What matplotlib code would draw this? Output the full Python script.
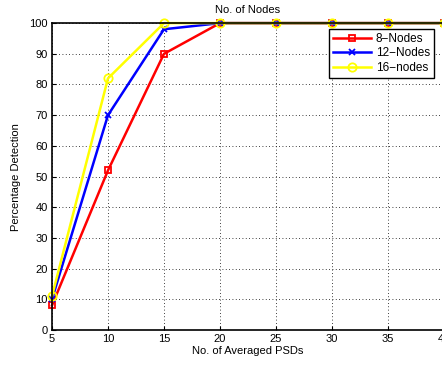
import matplotlib
matplotlib.use('Agg')
import matplotlib.pyplot as plt

plt.rcParams['font.family'] = ['Liberation Sans', 'DejaVu Sans']
plt.rcParams['font.size'] = 8

x = [5, 10, 15, 20, 25, 30, 35, 40]
nodes8 = [8, 52, 90, 100, 100, 100, 100, 100]
nodes12 = [10, 70, 98, 100, 100, 100, 100, 100]
nodes16 = [11, 82, 100, 100, 100, 100, 100, 100]

fig = plt.figure(figsize=(4.42, 3.67), dpi=100)
ax = fig.add_axes([0.1176, 0.1008, 0.8869, 0.8362])

ax.plot(x, nodes8, color='red', lw=1.8, marker='s', ms=5, mfc='none', mec='red', mew=1.3, label='8\u2212Nodes', clip_on=False)
ax.plot(x, nodes12, color='blue', lw=1.8, marker='x', ms=4, mec='blue', mew=1.3, label='12\u2212Nodes', clip_on=False)
ax.plot(x, nodes16, color='yellow', lw=1.8, marker='o', ms=6, mfc='none', mec='yellow', mew=1.3, label='16\u2212nodes', clip_on=False)

ax.set_xlim(5, 40)
ax.set_ylim(0, 100)
ax.set_xticks(range(5, 41, 5))
ax.set_yticks(range(0, 101, 10))
ax.grid(True, color='black', linestyle=(0, (1, 3)), lw=0.6)
ax.tick_params(direction='in', length=3, width=0.8, labelsize=8, pad=3)
for s in ax.spines.values():
    s.set_linewidth(1.2)

ax.set_xlabel('No. of Averaged PSDs', labelpad=1)
ax.set_ylabel('Percentage Detection', labelpad=6)
ax.set_title('No. of Nodes', fontsize=8, pad=7)

leg = ax.legend(loc='upper right', bbox_to_anchor=(434 / 442, 1 - 29 / 367),
                bbox_transform=fig.transFigure, borderaxespad=0, fancybox=False, framealpha=1,
                edgecolor='black', fontsize=8.5, handlelength=3.2,
                borderpad=0.35, labelspacing=0.2, handletextpad=0.4)
leg.get_frame().set_linewidth(1.0)

fig.savefig('out.png', dpi=100)
